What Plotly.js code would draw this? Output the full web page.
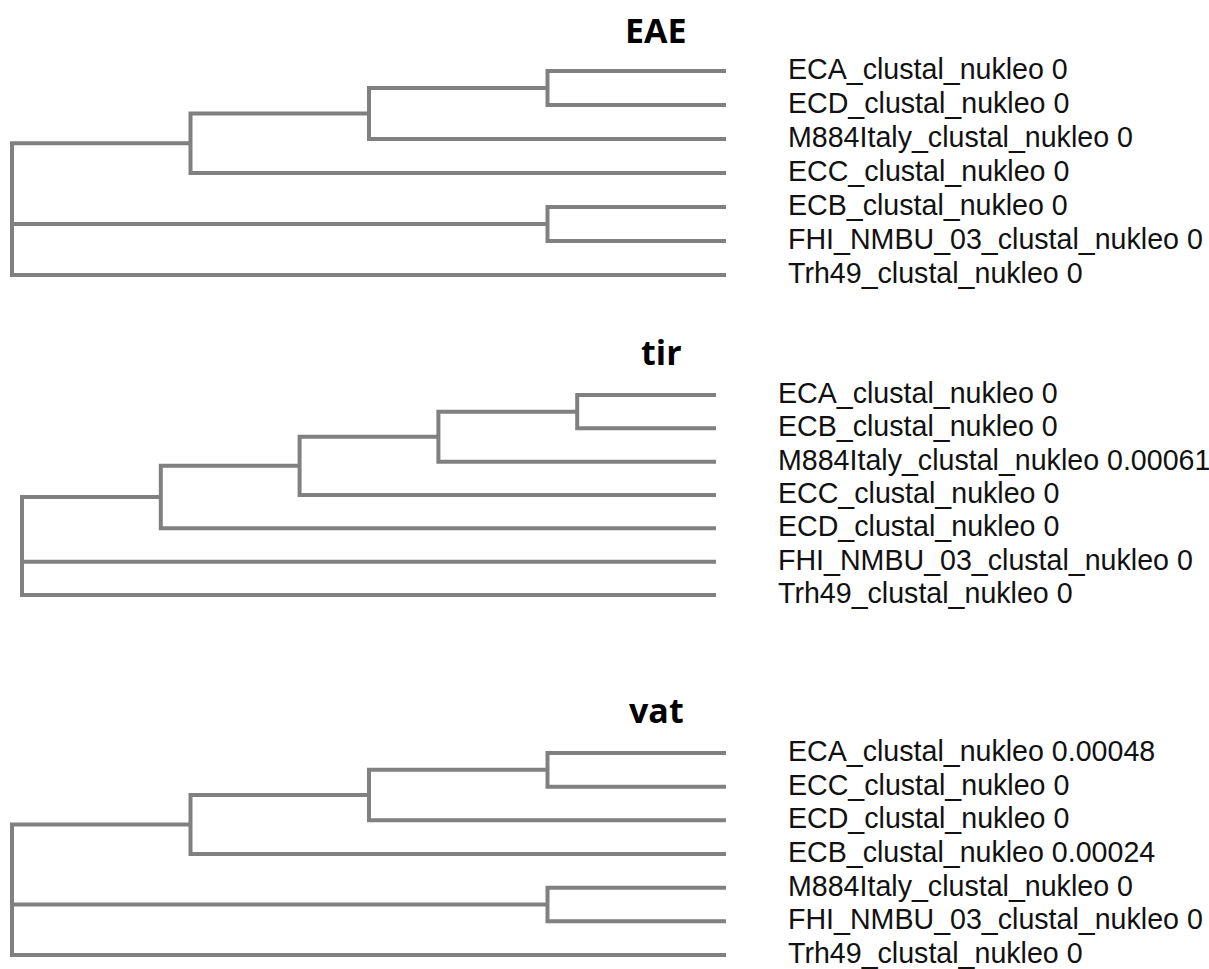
<!DOCTYPE html>
<html>
<head>
<meta charset="utf-8">
<script src="https://cdn.plot.ly/plotly-3.0.1.min.js"></script>
<style>
  html, body { margin: 0; padding: 0; background: #ffffff; }
  #chart { width: 1209px; height: 969px; }
</style>
</head>
<body>
<div id="chart"></div>
<script>
// ---------------- data ----------------
const eaeTitle = "EAE";
const eaeLeaves = ["ECA_clustal_nukleo", "ECD_clustal_nukleo", "M884Italy_clustal_nukleo", "ECC_clustal_nukleo", "ECB_clustal_nukleo", "FHI_NMBU_03_clustal_nukleo", "Trh49_clustal_nukleo"];
const eaeValues = [0, 0, 0, 0, 0, 0, 0];
const eaeTree = [[[[0, 1], 2], 3], [4, 5], 6];

const tirTitle = "tir";
const tirLeaves = ["ECA_clustal_nukleo", "ECB_clustal_nukleo", "M884Italy_clustal_nukleo", "ECC_clustal_nukleo", "ECD_clustal_nukleo", "FHI_NMBU_03_clustal_nukleo", "Trh49_clustal_nukleo"];
const tirValues = [0, 0, 0.00061, 0, 0, 0, 0];
const tirTree = [[[[[0, 1], 2], 3], 4], 5, 6];

const vatTitle = "vat";
const vatLeaves = ["ECA_clustal_nukleo", "ECC_clustal_nukleo", "ECD_clustal_nukleo", "ECB_clustal_nukleo", "M884Italy_clustal_nukleo", "FHI_NMBU_03_clustal_nukleo", "Trh49_clustal_nukleo"];
const vatValues = [0.00048, 0, 0, 0.00024, 0, 0, 0];
const vatTree = [[[[0, 1], 2], 3], [4, 5], 6];

// ---------------- layout geometry (pixels) ----------------
const W = 1209, Hpx = 969;
const panels = [
  { title: eaeTitle, leaves: eaeLeaves, values: eaeValues, tree: eaeTree,
    xPx: [12, 726], leafPx: [71, 275], box: [0, 318], titleX: 656, titleY: 30 },
  { title: tirTitle, leaves: tirLeaves, values: tirValues, tree: tirTree,
    xPx: [22, 716], leafPx: [395, 595], box: [318, 640], titleX: 662, titleY: 352 },
  { title: vatTitle, leaves: vatLeaves, values: vatValues, tree: vatTree,
    xPx: [12, 726], leafPx: [753, 955], box: [640, 969], titleX: 656, titleY: 710 }
];

const LINE_COLOR = "#808080";
const LINE_W = 4;

function height(node) {
  if (typeof node === "number") return 0;
  return 1 + Math.max(...node.map(height));
}

// returns {x, y} of node; pushes path segments into segs
function layoutNode(node, H, segs) {
  if (typeof node === "number") return { x: H, y: node };
  const kids = node.map(c => layoutNode(c, H, segs));
  const xn = H - height(node);
  const first = kids[0], last = kids[kids.length - 1];
  segs.push([[first.x, xn, xn, last.x], [first.y, first.y, last.y, last.y]]);
  for (let k = 1; k < kids.length - 1; k++) {
    segs.push([[xn, kids[k].x], [kids[k].y, kids[k].y]]);
  }
  return { x: xn, y: (first.y + last.y) / 2 };
}

const data = [];
const layout = {
  width: W, height: Hpx,
  margin: { l: 0, r: 0, t: 0, b: 0 },
  paper_bgcolor: "#ffffff",
  plot_bgcolor: "#ffffff",
  showlegend: false,
  hovermode: false,
  annotations: []
};

panels.forEach((p, idx) => {
  const sfx = idx === 0 ? "" : String(idx + 1);
  const xa = "x" + sfx, ya = "y" + sfx;
  const H = height(p.tree);
  const segs = [];
  layoutNode(p.tree, H, segs);
  const xs = [], ys = [];
  segs.forEach(s => { xs.push(...s[0], null); ys.push(...s[1], null); });
  data.push({
    type: "scatter", mode: "lines", x: xs, y: ys,
    xaxis: xa, yaxis: ya,
    line: { color: LINE_COLOR, width: LINE_W },
    hoverinfo: "skip", cliponaxis: false
  });

  const ux = (p.xPx[1] - p.xPx[0]) / H;
  const n = p.leaves.length;
  const uy = (p.leafPx[1] - p.leafPx[0]) / (n - 1);
  const T = p.box[0], B = p.box[1];
  layout["xaxis" + sfx] = {
    domain: [0, 1], range: [-p.xPx[0] / ux, (W - p.xPx[0]) / ux],
    visible: false, fixedrange: true, anchor: ya
  };
  layout["yaxis" + sfx] = {
    domain: [1 - B / Hpx, 1 - T / Hpx],
    range: [(B - p.leafPx[0]) / uy, (T - p.leafPx[0]) / uy],
    visible: false, fixedrange: true, anchor: xa
  };

  p.leaves.forEach((name, i) => {
    layout.annotations.push({
      xref: xa, yref: ya, x: H, y: i,
      text: name + " " + String(p.values[i]),
      showarrow: false, xanchor: "left", yanchor: "middle", xshift: 60, yshift: 2,
      font: { family: "Liberation Sans, Arial, sans-serif", size: 28.6, color: "#111111" }
    });
  });

  layout.annotations.push({
    xref: "paper", yref: "paper",
    x: p.titleX / W, y: 1 - p.titleY / Hpx,
    text: "<b>" + p.title + "</b>",
    showarrow: false, xanchor: "center", yanchor: "middle",
    font: { family: "Open Sans, Noto Sans, sans-serif", size: 34, color: "#000000" }
  });
});

Plotly.newPlot("chart", data, layout, { displayModeBar: false, staticPlot: true });
</script>
</body>
</html>
